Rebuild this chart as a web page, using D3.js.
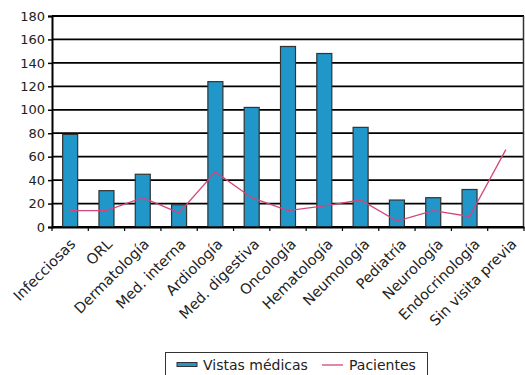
<!DOCTYPE html>
<html>
<head>
<meta charset="utf-8">
<script src="https://d3js.org/d3.v7.min.js"></script>
<style>
  body { margin: 0; background: #fff; }
  text { font-family: "DejaVu Sans", sans-serif; }
</style>
</head>
<body>
<svg id="svg"></svg>
<script>
  let width = 525;
  let height = 375;

  let categories = ['Infecciosas', 'ORL', 'Dermatología', 'Med. interna', 'Ardiología',
    'Med. digestiva', 'Oncología', 'Hematología', 'Neumología', 'Pediatría',
    'Neurología', 'Endocrinología', 'Sin visita previa'];
  let visitas = [79, 31, 45, 19, 124, 102, 154, 148, 85, 23, 25, 32, 0];
  let pacientes = [14, 14, 25, 12, 47, 25, 14, 18, 23, 5, 14, 9, 66];
  let yTicks = [0, 20, 40, 60, 80, 100, 120, 140, 160, 180];

  let margin = { top: 16, right: 1, bottom: 148, left: 52 };

  let svg = d3.select('#svg')
    .attr('width', width)
    .attr('height', height);

  let x = d3.scaleBand()
    .domain(categories)
    .range([margin.left, width - margin.right]);

  // labels drift a little to the right of the ticks in the original
  let labelX = d3.scaleBand()
    .domain(categories)
    .range([margin.left + 1, width + 6]);

  let y = d3.scaleLinear()
    .domain([0, 180])
    .range([height - margin.bottom, margin.top]);

  // grid lines
  svg.append('g')
    .selectAll('line')
    .data(yTicks)
    .enter()
    .append('line')
    .attr('x1', margin.left)
    .attr('x2', width - margin.right)
    .attr('y1', d => y(d))
    .attr('y2', d => y(d))
    .attr('stroke', '#000')
    .attr('stroke-width', 1.8);

  // plot frame right side
  svg.append('line')
    .attr('x1', width - margin.right - 0.5).attr('x2', width - margin.right - 0.5)
    .attr('y1', y(180)).attr('y2', y(0))
    .attr('stroke', '#333').attr('stroke-width', 1.5);

  // bars
  let barW = 15;
  svg.append('g')
    .selectAll('rect')
    .data(categories.filter((c, i) => visitas[i] > 0))
    .enter()
    .append('rect')
    .attr('x', d => x(d) + x.bandwidth() / 2 - barW / 2)
    .attr('y', d => y(visitas[categories.indexOf(d)]))
    .attr('width', barW)
    .attr('height', d => y(0) - y(visitas[categories.indexOf(d)]))
    .attr('fill', '#2196c9')
    .attr('stroke', '#333')
    .attr('stroke-width', 1.2);

  // line
  let line = d3.line()
    .x((d, i) => x(categories[i]) + x.bandwidth() / 2)
    .y(d => y(d));

  svg.append('path')
    .datum(pacientes)
    .attr('d', line)
    .attr('fill', 'none')
    .attr('stroke', '#d2467c')
    .attr('stroke-width', 1.3);

  // y axis
  let yAxis = svg.append('g')
    .attr('transform', `translate(${margin.left},0)`)
    .call(d3.axisLeft(y).tickValues(yTicks).tickSize(4).tickPadding(3));
  yAxis.select('.domain').attr('stroke', '#000').attr('stroke-width', 2);
  yAxis.selectAll('.tick line').attr('stroke', '#000').attr('stroke-width', 1.5);
  yAxis.selectAll('text')
    .attr('font-size', 13)
    .attr('fill', '#222')
    .style('font-family', '"DejaVu Sans", sans-serif');

  // x axis
  let xAxis = svg.append('g')
    .attr('transform', `translate(0,${y(0)})`)
    .call(d3.axisBottom(x).tickSize(0).tickFormat(''));
  xAxis.select('.domain').attr('stroke', '#000').attr('stroke-width', 2);

  // category boundary ticks
  let bounds = categories.map(c => x(c)).concat([width - margin.right]);
  svg.append('g')
    .selectAll('line')
    .data(bounds)
    .enter()
    .append('line')
    .attr('x1', d => d).attr('x2', d => d)
    .attr('y1', y(0)).attr('y2', y(0) + 4)
    .attr('stroke', '#000').attr('stroke-width', 1.2);

  // rotated category labels
  svg.append('g')
    .selectAll('text')
    .data(categories)
    .enter()
    .append('text')
    .attr('transform', d => `translate(${labelX(d) + labelX.bandwidth() / 2 + 5},${y(0) + 18}) rotate(-45)`)
    .attr('text-anchor', 'end')
    .attr('font-size', 14.5)
    .attr('fill', '#222')
    .text(d => d);

  // legend
  let legend = svg.append('g');
  legend.append('rect')
    .attr('x', 165.5).attr('y', 352.5)
    .attr('width', 262).attr('height', 30)
    .attr('fill', '#fff').attr('stroke', '#333').attr('stroke-width', 1);
  legend.append('rect')
    .attr('x', 177).attr('y', 362.5)
    .attr('width', 20).attr('height', 4)
    .attr('fill', '#2196c9').attr('stroke', '#333').attr('stroke-width', 1);
  legend.append('text')
    .attr('x', 203).attr('y', 369.5)
    .attr('font-size', 14).attr('fill', '#222')
    .text('Vistas médicas');
  legend.append('line')
    .attr('x1', 322).attr('x2', 343)
    .attr('y1', 365).attr('y2', 365)
    .attr('stroke', '#d2467c').attr('stroke-width', 1.3);
  legend.append('text')
    .attr('x', 349).attr('y', 369.5)
    .attr('font-size', 14).attr('fill', '#222')
    .text('Pacientes');
</script>
</body>
</html>
